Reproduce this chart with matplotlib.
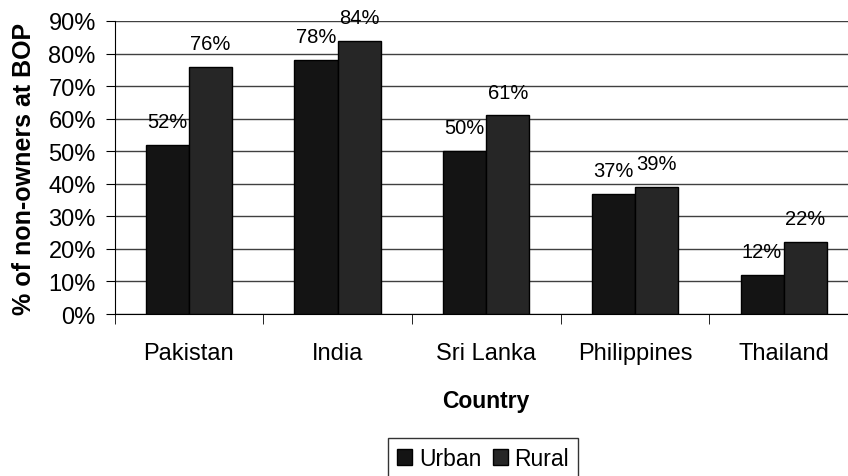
import matplotlib.pyplot as plt
import numpy as np
from matplotlib.ticker import FixedLocator, PercentFormatter

countries = ["Pakistan", "India", "Sri Lanka", "Philippines", "Thailand"]
urban = [52, 78, 50, 37, 12]
rural = [76, 84, 61, 39, 22]

plt.rcParams["font.family"] = ["Liberation Sans", "DejaVu Sans"]

fig = plt.figure(figsize=(8.48, 4.77), dpi=100)
ax = fig.add_axes([0.1351, 0.3396, 0.8767, 0.6143])

x = np.arange(len(countries))
w = 0.29
b1 = ax.bar(x - w / 2, urban, w, color="#141414", edgecolor="black",
            linewidth=1, label="Urban", zorder=3)
b2 = ax.bar(x + w / 2, rural, w, color="#262626", edgecolor="black",
            linewidth=1, label="Rural", zorder=3)

for bars, vals in ((b1, urban), (b2, rural)):
    for bar, v in zip(bars, vals):
        ax.annotate(f"{v}%", (bar.get_x() + bar.get_width() / 2, v),
                    xytext=(0, 10), textcoords="offset points",
                    ha="center", va="bottom", fontsize=14.5)

ax.set_xlim(-0.5, len(countries) - 0.5)
ax.set_ylim(0, 90)
ax.set_yticks(range(0, 91, 10))
ax.yaxis.set_major_formatter(PercentFormatter(decimals=0))
ax.yaxis.grid(True, color="#404040", linewidth=1, zorder=0)
ax.set_axisbelow(True)

ax.set_xticks(x)
ax.set_xticklabels(countries)
ax.xaxis.set_minor_locator(FixedLocator(np.arange(-0.5, len(countries), 1)))
ax.tick_params(axis="x", which="major", length=0, pad=20, labelsize=17)
ax.tick_params(axis="x", which="minor", length=7, direction="out",
               color="black")
ax.tick_params(axis="y", length=6.5, direction="out", labelsize=17, pad=7)

for side in ("top", "right"):
    ax.spines[side].set_visible(False)
ax.spines["left"].set_color("black")
ax.spines["bottom"].set_color("black")

ax.set_xlabel("Country", fontsize=16.5, fontweight="bold", labelpad=18)
ax.set_ylabel("% of non-owners at BOP", fontsize=18, fontweight="bold",
              labelpad=9)

leg = fig.legend(handles=[b1, b2], loc="upper left",
                 bbox_to_anchor=(388 / 848, 1 - 439 / 477), ncol=2,
                 frameon=True, fancybox=False, edgecolor="black",
                 fontsize=16.5, handlelength=0.65, handleheight=0.65,
                 handletextpad=0.3, columnspacing=0.5, borderpad=0.4,
                 borderaxespad=0)
leg.get_frame().set_linewidth(1)

fig.savefig("out.png", dpi=100)
